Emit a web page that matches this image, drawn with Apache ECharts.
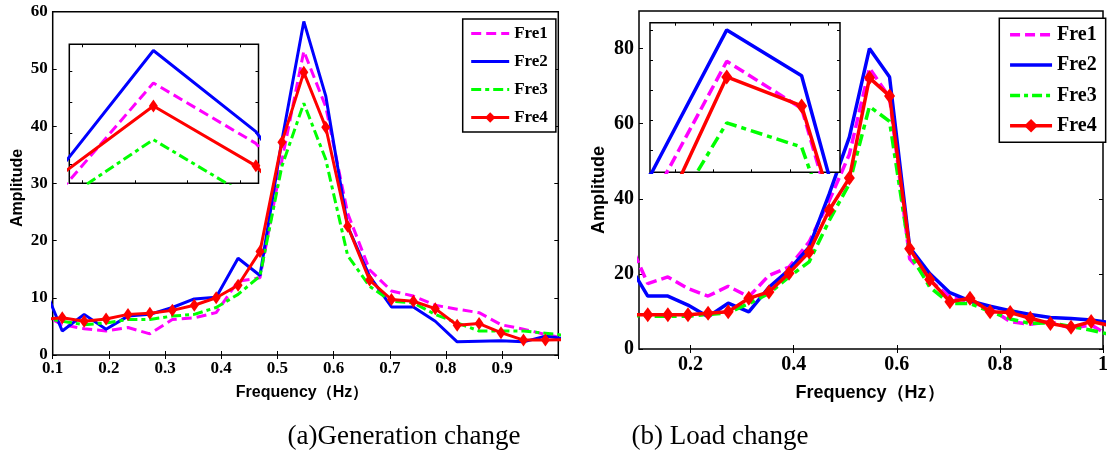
<!DOCTYPE html>
<html><head><meta charset="utf-8">
<script src="https://cdn.jsdelivr.net/npm/echarts@6/dist/echarts.min.js"></script>
<style>html,body{margin:0;padding:0;background:#fff}#c{width:1111px;height:455px}</style>
</head><body><div id="c"></div>
<script>
// ---- data ----
const freqs = [0.078, 0.117, 0.156, 0.195, 0.234, 0.273, 0.313, 0.352, 0.391, 0.430, 0.469, 0.508, 0.547,
               0.586, 0.625, 0.664, 0.703, 0.742, 0.781, 0.820, 0.859, 0.898, 0.938, 0.977, 1.016];
const seriesNames = ['Fre1', 'Fre2', 'Fre3', 'Fre4'];
// (a) Generation change
const genFre1 = [7.3, 5.3, 4.6, 4.2, 4.8, 3.7, 6.2, 6.5, 7.4, 12.9, 13.5, 34.0, 53.1, 43.4, 24.8, 14.9, 11.2, 10.3, 8.7, 8.0, 7.4, 5.3, 4.5, 3.6, 2.8];
const genFre2 = [13.5, 4.2, 7.1, 4.5, 6.8, 7.1, 8.3, 9.8, 10.1, 16.9, 13.9, 37.5, 58.3, 45.3, 22.5, 13.8, 8.4, 8.4, 5.9, 2.3, 2.4, 2.5, 2.3, 3.3, 2.8];
const genFre3 = [6.6, 5.9, 5.3, 5.6, 6.2, 6.2, 6.8, 7.1, 8.3, 10.6, 13.8, 33.0, 44.0, 34.2, 17.4, 12.0, 9.4, 9.1, 7.1, 5.6, 4.2, 4.2, 4.2, 3.8, 3.4];
const genFre4 = [6.2, 6.5, 5.9, 6.3, 7.1, 7.3, 7.8, 8.7, 10.0, 12.2, 18.1, 37.2, 49.4, 39.8, 22.5, 13.1, 9.7, 9.4, 8.1, 5.2, 5.5, 3.9, 2.6, 2.6, 2.7];
// (b) Load change
const loadFre1 = [29.5, 17.4, 19.2, 16.1, 14.1, 16.7, 13.9, 19.6, 21.8, 28.5, 39.5, 51.8, 74.8, 67.0, 24.0, 18.3, 13.9, 12.6, 10.8, 7.3, 6.6, 7.3, 5.5, 6.4, 3.3];
const loadFre2 = [23.0, 14.1, 14.1, 11.7, 8.6, 12.2, 9.9, 16.4, 21.1, 27.1, 41.3, 56.4, 80.0, 72.4, 27.1, 20.1, 15.0, 12.8, 11.4, 10.2, 9.2, 8.4, 8.1, 7.7, 7.0];
const loadFre3 = [9.0, 8.7, 8.7, 8.7, 9.2, 9.6, 12.1, 14.8, 19.2, 23.2, 34.2, 44.0, 64.6, 60.6, 25.4, 16.5, 12.1, 12.1, 10.0, 8.0, 6.8, 7.0, 6.0, 5.0, 3.8];
const loadFre4 = [9.1, 9.1, 9.1, 9.1, 9.5, 9.9, 13.5, 15.2, 20.2, 25.8, 37.0, 45.5, 72.2, 67.4, 26.7, 18.5, 12.6, 13.5, 9.9, 9.7, 8.2, 6.8, 5.8, 7.3, 6.2];
// ticks
const leftXTicks = [0.1, 0.2, 0.3, 0.4, 0.5, 0.6, 0.7, 0.8, 0.9, 1.0];
const leftXLabels = [0.1, 0.2, 0.3, 0.4, 0.5, 0.6, 0.7, 0.8, 0.9];
const leftYTicks = [0, 10, 20, 30, 40, 50, 60];
const rightXTicks = [0.2, 0.4, 0.6, 0.8, 1.0];
const rightYTicks = [0, 20, 40, 60, 80];
const leftInsetXTicks = [0.52, 0.54, 0.56, 0.58];
const leftInsetYTicks = [40, 45, 50, 55];
const rightInsetXTicks = [0.52, 0.54, 0.56, 0.58, 0.60];
const rightInsetYTicks = [60, 65, 70, 75, 80];
const xName = 'Frequency（Hz）';
const yName = 'Amplitude';
const captions = ['(a)Generation change', '(b) Load change'];

// ---- chart ----
const colors = ['#ff00ff', '#0000ff', '#00ff00', '#ff0000'];
const serif = '"Liberation Serif","Times New Roman",serif';
const sans = '"Liberation Sans",Arial,sans-serif';
const chart = echarts.init(document.getElementById('c'), null, {renderer: 'canvas', width: 1111, height: 455});

const panels = [
  {main: {left: 52.7, top: 11.7, width: 505.6, height: 343.3}, inset: {left: 69.3, top: 44.3, width: 189.2, height: 139},
   xr: [0.1, 1.0], yr: [0, 60], ixr: [0.515, 0.587], iyr: [37, 59.3],
   xTicks: leftXTicks, xLabels: leftXLabels, yTicks: leftYTicks, yLabels: leftYTicks,
   ixTicks: leftInsetXTicks, iyTicks: leftInsetYTicks,
   data: [genFre1, genFre2, genFre3, genFre4], lw: 3, sym: [9, 13],
   dash: [[10, 5], 'solid', [10, 4, 4, 4], 'solid'], fs: 17, xm: 5, ym: 5,
   xfmt: v => v.toFixed(1)},
  {main: {left: 639, top: 11, width: 470, height: 338}, inset: {left: 650, top: 22.7, width: 190, height: 149.6},
   xr: [0.1, 1.0], yr: [0, 90], ixr: [0.507, 0.606], iyr: [56.4, 81.2],
   xTicks: rightXTicks, xLabels: rightXTicks, yTicks: rightYTicks, yLabels: rightYTicks,
   ixTicks: rightInsetXTicks, iyTicks: rightInsetYTicks,
   data: [loadFre1, loadFre2, loadFre3, loadFre4], lw: 3.5, sym: [11, 15],
   dash: [[11, 5], 'solid', [12, 5, 5, 5], 'solid'], fs: 20, xm: 6, ym: 5,
   xfmt: v => (v === 1 ? '1' : v.toFixed(1))}
];

const grid = [], xAxis = [], yAxis = [], series = [];

function axisPair(kind, gi, range, ticks, labels, fs, margin, fmt, tickLen, z) {
  const out = [];
  const positions = kind === 'x' ? ['bottom', 'top'] : ['left', 'right'];
  positions.forEach((pos, j) => {
    out.push({
      type: 'value', gridIndex: gi, position: pos, min: range[0], max: range[1], z: z,
      axisLine: {show: false}, splitLine: {show: false},
      axisTick: {show: true, inside: true, length: tickLen, customValues: ticks, lineStyle: {color: '#000', width: 1}},
      axisLabel: (j === 0 && labels) ? {
        show: true, customValues: labels, formatter: fmt, margin: margin,
        fontFamily: serif, fontWeight: 'bold', fontSize: fs, color: '#000'
      } : {show: false}
    });
  });
  return out;
}

panels.forEach((p, pi) => {
  const gMain = pi * 2, gIn = pi * 2 + 1;
  grid.push(Object.assign({show: true, borderColor: '#000', borderWidth: 1.5, backgroundColor: 'transparent', z: 0}, p.main));
  grid.push(Object.assign({show: true, borderColor: '#000', borderWidth: 1.5, backgroundColor: '#fff', z: 10}, p.inset));
  xAxis.push(...axisPair('x', gMain, p.xr, p.xTicks, p.xLabels, p.fs, p.xm, p.xfmt, 4, 1));
  yAxis.push(...axisPair('y', gMain, p.yr, p.yTicks, p.yLabels, p.fs, p.ym, v => String(v), 4, 1));
  xAxis.push(...axisPair('x', gIn, p.ixr, p.ixTicks, null, 0, 0, null, 3, 11));
  yAxis.push(...axisPair('y', gIn, p.iyr, p.iyTicks, null, 0, 0, null, 3, 11));
  [gMain, gIn].forEach((g, k) => {
    p.data.forEach((vals, si) => {
      const isMarker = si === 3;
      series.push({
        type: 'line', name: seriesNames[si], xAxisIndex: g * 2, yAxisIndex: g * 2,
        data: freqs.map((f, i) => [f, vals[i]]),
        symbol: isMarker ? 'diamond' : 'none', symbolSize: p.sym, showSymbol: isMarker, showAllSymbol: true,
        lineStyle: {color: colors[si], width: p.lw, type: p.dash[si]},
        itemStyle: {color: colors[si], borderWidth: 0},
        clip: true, silent: true, animation: false,
        z: k === 0 ? 2 + si * 0.01 : 12 + si * 0.01
      });
    });
  });
});

function legendFor(left, top, itemWidth, itemHeight, itemGap, padding, fs, lw) {
  return {
    show: true, orient: 'vertical', left: left, top: top, itemWidth: itemWidth, itemHeight: itemHeight,
    itemGap: itemGap, padding: padding, borderColor: '#000', borderWidth: 1.5, backgroundColor: '#fff',
    selectedMode: false, z: 20,
    textStyle: {fontFamily: serif, fontWeight: 'bold', fontSize: fs, color: '#000', padding: [0, 0, 0, 0]},
    data: seriesNames.map((n, i) => (i === 3
      ? {name: n, lineStyle: {width: lw}}
      : {name: n, lineStyle: {width: lw}, itemStyle: {opacity: 0}}))
  };
}

const legend = [
  legendFor(462.7, 19, 38, 13, 11, [6, 8, 6, 7], 17, 3),
  legendFor(999.3, 18.3, 42, 17, 10.3, [6.5, 9, 6.5, 9], 20, 3.5)
];

const graphic = [
  {type: 'text', x: 302, y: 393, style: {text: xName, font: 'bold 16px ' + sans, fill: '#000', align: 'center', verticalAlign: 'middle'}},
  {type: 'text', x: 870, y: 393, style: {text: xName, font: 'bold 18px ' + sans, fill: '#000', align: 'center', verticalAlign: 'middle'}},
  {type: 'text', x: 17.5, y: 188, rotation: Math.PI / 2, style: {text: yName, font: 'bold 16px ' + sans, fill: '#000', align: 'center', verticalAlign: 'middle'}},
  {type: 'text', x: 599, y: 190, rotation: Math.PI / 2, style: {text: yName, font: 'bold 18px ' + sans, fill: '#000', align: 'center', verticalAlign: 'middle'}},
  {type: 'text', x: 404, y: 437, style: {text: captions[0], font: '27px ' + serif, fill: '#000', align: 'center', verticalAlign: 'middle'}},
  {type: 'text', x: 720, y: 437, style: {text: captions[1], font: '27px ' + serif, fill: '#000', align: 'center', verticalAlign: 'middle'}}
];

chart.setOption({
  animation: false, backgroundColor: '#fff',
  grid: grid, xAxis: xAxis, yAxis: yAxis, series: series, legend: legend, graphic: graphic
});
</script>
</body></html>
